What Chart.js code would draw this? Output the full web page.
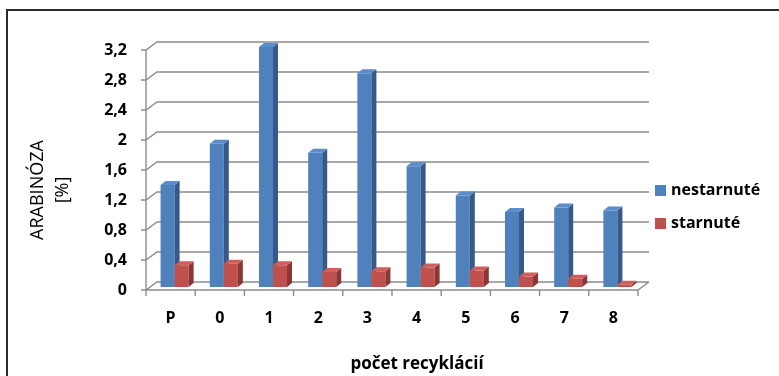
<!DOCTYPE html>
<html>
<head>
<meta charset="utf-8">
<script src="https://cdn.jsdelivr.net/npm/chart.js@4/dist/chart.umd.min.js"></script>
<style>
  html, body { margin: 0; padding: 0; background: #ffffff; }
  #wrap { position: relative; width: 779px; height: 376px; overflow: hidden; }
  #frame { position: absolute; left: 6px; top: 9px; width: 800px; height: 400px;
           border-left: 2px solid #2b2b2b; border-top: 2px solid #2b2b2b; pointer-events: none; }
  canvas { position: absolute; left: 0; top: 0; }
</style>
</head>
<body>
<div id="wrap">
  <canvas id="c" width="779" height="376"></canvas>
  <div id="frame"></div>
</div>
<script>
// Arabinose content [%] per recycling step
const categories = ['P', '0', '1', '2', '3', '4', '5', '6', '7', '8'];
const nestarnute = [1.36, 1.91, 3.20, 1.79, 2.85, 1.61, 1.22, 1.00, 1.06, 1.02];
const starnute   = [0.29, 0.31, 0.29, 0.20, 0.21, 0.26, 0.22, 0.14, 0.11, 0.03];
const seriesNames = ['nestarnuté', 'starnuté'];
const yMin = 0, yMax = 3.2, yStep = 0.4;
const yTitle = ['ARABINÓZA', '[%]'];
const xTitle = 'počet recyklácií';

// face colours: front, side, top
const palette = [
  { front: '#4f81bd', side: '#37598a', top: '#5b8ccb' },
  { front: '#c0504d', side: '#8c3634', top: '#cd5f5c' }
];

const FONT = "'Open Sans', 'DejaVu Sans', sans-serif";
const WALL = { dx: 11, dy: -8 };     // depth of the back wall
const BAR_SHIFT = { dx: 4, dy: -3 }; // bars stand a bit inside the floor
const BAR_DEPTH = { dx: 5, dy: -4 };
const GRID = '#8c8c8c';

const fmt = v => {
  const s = Number(v).toFixed(1).replace('.', ',');
  return s.endsWith(',0') ? s.slice(0, -2) : s;
};

const walls = {
  id: 'walls',
  beforeDatasetsDraw(chart) {
    const { ctx, chartArea: a, scales: { x, y } } = chart;
    ctx.save();
    ctx.strokeStyle = GRID;
    ctx.lineWidth = 1.4;
    ctx.beginPath();
    y.ticks.forEach(t => {
      const py = y.getPixelForValue(t.value);
      ctx.moveTo(a.left - 5, py);
      ctx.lineTo(a.left, py);
      ctx.lineTo(a.left + WALL.dx, py + WALL.dy);
      ctx.lineTo(a.right + WALL.dx, py + WALL.dy);
    });
    // front axes
    ctx.moveTo(a.left, a.top);
    ctx.lineTo(a.left, a.bottom);
    ctx.lineTo(a.right, a.bottom);
    ctx.lineTo(a.right + WALL.dx, a.bottom + WALL.dy);
    // category separators
    for (let i = 0; i <= categories.length; i++) {
      const px = x.getPixelForValue(i - 0.5);
      ctx.moveTo(px, a.bottom);
      ctx.lineTo(px, a.bottom + 6);
    }
    ctx.stroke();
    ctx.restore();
  },
  afterDatasetsDraw(chart) {
    const { ctx } = chart;
    ctx.save();
    ctx.translate(BAR_SHIFT.dx, BAR_SHIFT.dy);
    const metas = chart.data.datasets.map((d, i) => chart.getDatasetMeta(i));
    for (let j = 0; j < categories.length; j++) {
      metas.forEach((meta, i) => {
        const el = meta.data[j];
        const { x, y, base, width } = el.getProps(['x', 'y', 'base', 'width'], true);
        const x0 = x - width / 2, x1 = x + width / 2;
        const top = Math.min(y, base), bot = Math.max(y, base);
        const c = palette[i];
        const dx = BAR_DEPTH.dx, dy = BAR_DEPTH.dy;
        ctx.fillStyle = c.front;
        ctx.fillRect(x0, top, x1 - x0, bot - top);
        ctx.fillStyle = c.side;
        ctx.beginPath();
        ctx.moveTo(x1, top);
        ctx.lineTo(x1 + dx, top + dy);
        ctx.lineTo(x1 + dx, bot + dy);
        ctx.lineTo(x1, bot);
        ctx.closePath();
        ctx.fill();
        ctx.fillStyle = c.top;
        ctx.beginPath();
        ctx.moveTo(x0, top);
        ctx.lineTo(x0 + dx, top + dy);
        ctx.lineTo(x1 + dx, top + dy);
        ctx.lineTo(x1, top);
        ctx.closePath();
        ctx.fill();
      });
    }
    ctx.restore();
  },
  afterDraw(chart) {
    const { ctx } = chart;
    ctx.save();
    ctx.fillStyle = '#000';
    // axis titles
    ctx.font = `400 18px ${FONT}`;
    ctx.textAlign = 'center';
    ctx.textBaseline = 'middle';
    [38, 63].forEach((cx, k) => {
      ctx.save();
      ctx.translate(cx, 190);
      ctx.rotate(-Math.PI / 2);
      ctx.fillText(yTitle[k], 0, 0);
      ctx.restore();
    });
    ctx.font = `700 17px ${FONT}`;
    ctx.textBaseline = 'alphabetic';
    ctx.fillText(xTitle, 417, 369);
    // legend
    ctx.font = `700 16px ${FONT}`;
    ctx.textAlign = 'left';
    ctx.textBaseline = 'middle';
    chart.data.datasets.forEach((d, i) => {
      const cy = 190 + i * 33;
      ctx.fillStyle = palette[i].front;
      ctx.fillRect(655, cy - 5, 11, 11);
      ctx.fillStyle = '#000';
      ctx.fillText(d.label, 671, cy);
    });
    ctx.restore();
  }
};

new Chart(document.getElementById('c'), {
  type: 'bar',
  data: {
    labels: categories,
    datasets: [
      { label: seriesNames[0], data: nestarnute, backgroundColor: 'rgba(0,0,0,0)' },
      { label: seriesNames[1], data: starnute, backgroundColor: 'rgba(0,0,0,0)' }
    ]
  },
  options: {
    responsive: false,
    animation: false,
    devicePixelRatio: 1,
    layout: { padding: { left: 0, top: 50, right: 141, bottom: 0 } },
    categoryPercentage: 0.57,
    barPercentage: 1.0,
    plugins: { legend: { display: false }, tooltip: { enabled: false } },
    scales: {
      x: {
        grid: { display: false, drawTicks: false },
        border: { display: false },
        ticks: { color: '#000', font: { family: FONT, size: 16, weight: '700' }, padding: 19, maxRotation: 0 },
        afterFit: s => { s.height = 86; }
      },
      y: {
        min: yMin, max: yMax,
        grid: { display: false, drawTicks: false },
        border: { display: false },
        ticks: { stepSize: yStep, color: '#000', font: { family: FONT, size: 16, weight: '700' }, padding: 19,
                 callback: v => fmt(v) },
        afterFit: s => { s.width = 146; }
      }
    }
  },
  plugins: [walls]
});
</script>
</body>
</html>
